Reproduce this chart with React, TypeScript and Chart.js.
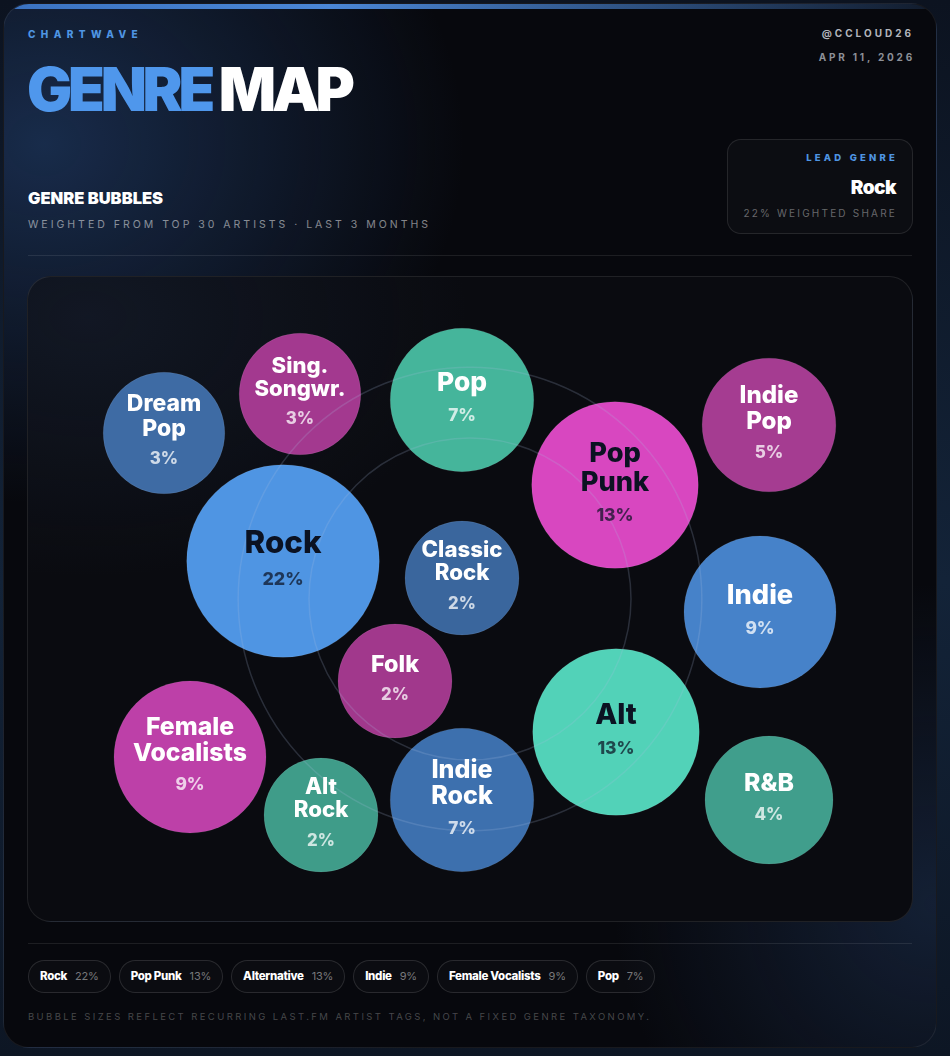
import { useEffect, useRef } from "react";
import { Chart, registerables } from "chart.js";

Chart.register(...registerables);

// weighted genre shares (%), top 30 artists, last 3 months
const genres = [
  "Rock",
  "Pop Punk",
  "Alternative",
  "Indie",
  "Female Vocalists",
  "Pop",
  "Indie Rock",
  "Indie Pop",
  "R&B",
  "Dream Pop",
  "Singer-Songwriter",
  "Classic Rock",
  "Folk",
  "Alternative Rock",
];
const bubbleLabels = [
  ["Rock"],
  ["Pop", "Punk"],
  ["Alt"],
  ["Indie"],
  ["Female", "Vocalists"],
  ["Pop"],
  ["Indie", "Rock"],
  ["Indie", "Pop"],
  ["R&B"],
  ["Dream", "Pop"],
  ["Sing.", "Songwr."],
  ["Classic", "Rock"],
  ["Folk"],
  ["Alt", "Rock"],
];
const shares = [22, 13, 13, 9, 9, 7, 7, 5, 4, 3, 3, 2, 2, 2];
// packed layout, panel units (0..884 across, 0..644 down)
const layoutX = [255, 587, 588, 732, 162, 434, 434, 741, 741, 136, 272, 434, 367, 293];
const layoutY = [284, 208, 455, 335, 480, 123, 523, 148, 523, 156, 117, 301, 404, 538];
const bubbleColors = [
  "#4f95e3",
  "#d847c0",
  "#52d2b8",
  "#4682c9",
  "#bd40a8",
  "#45b59b",
  "#3d70ae",
  "#a53c91",
  "#409e8c",
  "#3e6ba4",
  "#a3398f",
  "#3a669d",
  "#a1388c",
  "#3f9c89",
];
const legendCount = 6;

const PANEL_W = 884;
const PANEL_H = 644;
const FONT = "Inter, 'Noto Sans', sans-serif";

const bubbleRadius = (share: number) => 40 + 12 * Math.sqrt(share);

const ringsAndLabels = {
  id: "ringsAndLabels",
  afterDatasetsDraw(chart: Chart) {
    const { ctx, chartArea } = chart;
    const cx = (chartArea.left + chartArea.right) / 2;
    const cy = (chartArea.top + chartArea.bottom) / 2;
    const h = chartArea.bottom - chartArea.top;

    ctx.save();
    ctx.lineWidth = 1.5;
    ctx.strokeStyle = "rgba(170,190,225,0.2)";
    [0.25, 0.36].forEach((k) => {
      ctx.beginPath();
      ctx.arc(cx, cy, h * k, 0, Math.PI * 2);
      ctx.stroke();
    });
    ctx.restore();

    const meta = chart.getDatasetMeta(0);
    ctx.save();
    ctx.textAlign = "center";
    ctx.textBaseline = "middle";
    meta.data.forEach((el: any, i: number) => {
      const lines = bubbleLabels[i];
      const r = bubbleRadius(shares[i]);
      const dark = shares[i] >= 13;
      let fs = (12 + 0.2 * r) * (lines.length > 1 ? 0.95 : 1);
      ctx.font = `800 ${fs}px ${FONT}`;
      const w = Math.max(...lines.map((l) => ctx.measureText(l).width));
      if (w > r * 1.5) fs *= (r * 1.5) / w;
      const lh = fs * 1.06;
      const pfs = 15 + 0.03 * r;
      const gap = 10;
      const block = lines.length * lh + gap + pfs;
      let y = el.y - 3 - block / 2 + lh / 2;
      ctx.font = `800 ${fs}px ${FONT}`;
      ctx.fillStyle = dark ? "#0b1222" : "#ffffff";
      lines.forEach((l) => {
        ctx.fillText(l, el.x, y);
        y += lh;
      });
      y = y - lh / 2 + gap + pfs / 2;
      ctx.font = `800 ${pfs}px ${FONT}`;
      ctx.fillStyle = dark ? "rgba(11,18,34,0.72)" : "rgba(255,255,255,0.75)";
      ctx.fillText(`${shares[i]}%`, el.x, y);
    });
    ctx.restore();
  },
};

function BubbleChart() {
  const canvasRef = useRef<HTMLCanvasElement | null>(null);

  useEffect(() => {
    if (!canvasRef.current) return;
    const chart = new Chart(canvasRef.current, {
      type: "bubble",
      data: {
        datasets: [
          {
            label: "Genres",
            data: genres.map((_, i) => ({
              x: layoutX[i],
              y: layoutY[i],
              r: bubbleRadius(shares[i]),
            })),
            backgroundColor: bubbleColors,
            borderColor: "rgba(255,255,255,0.08)",
            borderWidth: 1,
            hoverRadius: 0,
          },
        ],
      },
      options: {
        animation: false,
        responsive: true,
        maintainAspectRatio: false,
        events: [],
        layout: { padding: 0, autoPadding: false },
        scales: {
          x: { type: "linear", min: 0, max: PANEL_W, display: false },
          y: { type: "linear", min: 0, max: PANEL_H, reverse: true, display: false },
        },
        plugins: { legend: { display: false }, tooltip: { enabled: false } },
      },
      plugins: [ringsAndLabels],
    });
    return () => chart.destroy();
  }, []);

  return (
    <div style={{ position: "absolute", left: 0, top: 0, width: PANEL_W, height: PANEL_H }}>
      <canvas ref={canvasRef} />
    </div>
  );
}

const tracked = (size: number, ls: number, color: string, weight = 700): React.CSSProperties => ({
  fontFamily: FONT,
  fontSize: size,
  fontWeight: weight,
  letterSpacing: ls,
  color,
  lineHeight: 1,
  whiteSpace: "nowrap",
});

export default function App() {
  return (
    <div
      style={{
        position: "fixed",
        inset: 0,
        background: "linear-gradient(180deg,#0c1320 0%,#132338 55%,#0d1624 100%)",
      }}
    >
      <div
        style={{
          position: "absolute",
          left: 3,
          top: 3,
          width: 934,
          height: 1045,
          boxSizing: "border-box",
          borderRadius: 26,
          border: "1px solid rgba(255,255,255,0.07)",
          overflow: "hidden",
          background:
            "radial-gradient(ellipse 420px 360px at 40px 140px, rgba(38,72,125,0.55), rgba(38,72,125,0) 100%)," +
            "radial-gradient(ellipse 320px 320px at 930px 900px, rgba(35,60,100,0.45), rgba(35,60,100,0) 100%)," +
            "#07080d",
        }}
      >
        <div
          style={{
            position: "absolute",
            left: 0,
            right: 0,
            top: 0,
            height: 5,
            background: "linear-gradient(90deg,#3a72c0 0%,#4a86d6 35%,rgba(74,134,214,0.55) 70%,rgba(74,134,214,0.15) 100%)",
          }}
        />
        <div style={{ position: "absolute", left: 24, top: 25, ...tracked(10, 5.4, "#4f95e3", 800) }}>CHARTWAVE</div>
        <div
          style={{
            position: "absolute",
            left: 23,
            top: 55,
            ...tracked(60, -4.2, "#4f97ec", 900),
          }}
        >
          GENRE <span style={{ color: "#ffffff" }}>MAP</span>
        </div>
        <div style={{ position: "absolute", left: 24, top: 186, ...tracked(16.5, 0, "#ffffff", 900) }}>
          GENRE BUBBLES
        </div>
        <div style={{ position: "absolute", left: 24, top: 216, ...tracked(10.5, 3, "rgba(255,255,255,0.5)", 400) }}>
          WEIGHTED FROM TOP 30 ARTISTS · LAST 3 MONTHS
        </div>

        <div style={{ position: "absolute", right: 22, top: 24, ...tracked(10, 3, "#b2b5bc", 700) }}>@CCLOUD26</div>
        <div style={{ position: "absolute", right: 21, top: 48, ...tracked(10, 2.8, "#8d9098", 700) }}>
          APR 11, 2026
        </div>

        <div
          style={{
            position: "absolute",
            right: 23,
            top: 135,
            width: 186,
            height: 95,
            boxSizing: "border-box",
            borderRadius: 14,
            border: "1px solid rgba(255,255,255,0.1)",
            background: "rgba(255,255,255,0.025)",
          }}
        >
          <div style={{ position: "absolute", right: 14, top: 13, ...tracked(9.5, 3.2, "#4f95e3", 800) }}>
            LEAD GENRE
          </div>
          <div style={{ position: "absolute", right: 16, top: 38, ...tracked(19, -0.5, "#ffffff", 900) }}>
            {genres[0]}
          </div>
          <div style={{ position: "absolute", right: 15, top: 68, ...tracked(10, 2.2, "rgba(255,255,255,0.38)", 400) }}>
            {shares[0]}% WEIGHTED SHARE
          </div>
        </div>

        <div
          style={{ position: "absolute", left: 24, right: 24, top: 251, height: 1, background: "rgba(255,255,255,0.09)" }}
        />

        <div
          style={{
            position: "absolute",
            left: 23,
            top: 272,
            width: 886,
            height: 646,
            boxSizing: "border-box",
            borderRadius: 24,
            border: "1px solid rgba(255,255,255,0.09)",
            overflow: "hidden",
            background:
              "radial-gradient(ellipse 380px 260px at 60px 40px, rgba(40,60,95,0.25), rgba(40,60,95,0) 100%),#0a0b10",
          }}
        >
          <BubbleChart />
        </div>

        <div
          style={{ position: "absolute", left: 24, right: 24, top: 939, height: 1, background: "rgba(255,255,255,0.09)" }}
        />

        <div style={{ position: "absolute", left: 24, top: 956, display: "flex", gap: 8 }}>
          {genres.slice(0, legendCount).map((g, i) => (
            <div
              key={g}
              style={{
                height: 33,
                boxSizing: "border-box",
                borderRadius: 17,
                border: "1px solid rgba(255,255,255,0.12)",
                background: "rgba(255,255,255,0.02)",
                display: "flex",
                alignItems: "center",
                padding: "0 11px 0 11px",
                gap: 8,
              }}
            >
              <span style={tracked(11.5, -0.3, "#ffffff", 800)}>{g}</span>
              <span style={tracked(11, -0.2, "rgba(255,255,255,0.45)", 400)}>{shares[i]}%</span>
            </div>
          ))}
        </div>

        <div style={{ position: "absolute", left: 24, top: 1008, ...tracked(9.5, 2.4, "rgba(255,255,255,0.26)", 400) }}>
          BUBBLE SIZES REFLECT RECURRING LAST.FM ARTIST TAGS, NOT A FIXED GENRE TAXONOMY.
        </div>
      </div>
    </div>
  );
}
